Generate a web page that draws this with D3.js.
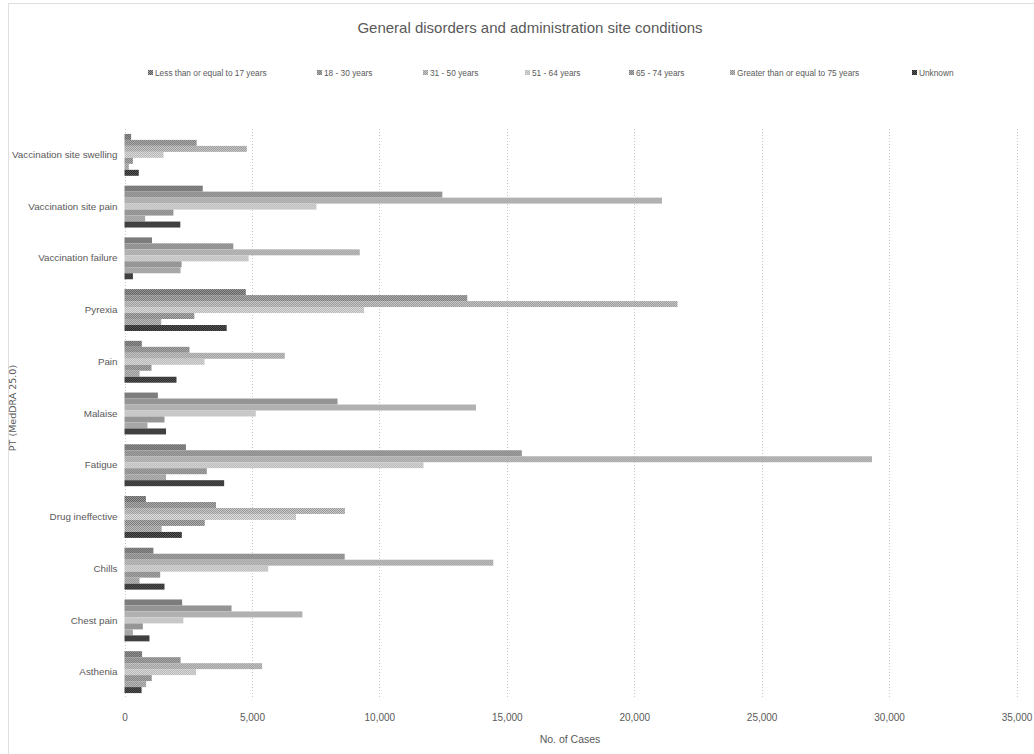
<!DOCTYPE html>
<html>
<head>
<meta charset="utf-8">
<script src="https://cdn.jsdelivr.net/npm/d3@7"></script>
<style>
  html, body { margin: 0; padding: 0; background: #fff; }
  svg { display: block; }
  text { font-family: "Liberation Sans", Arial, sans-serif; fill: #595959; }
</style>
</head>
<body>
<svg id="chart" width="1034" height="754"></svg>
<script>
// ---- Data ----
const categories = [
  "Vaccination site swelling", "Vaccination site pain", "Vaccination failure",
  "Pyrexia", "Pain", "Malaise", "Fatigue", "Drug ineffective",
  "Chills", "Chest pain", "Asthenia"
];
const seriesNames = [
  "Less than or equal to 17 years", "18 - 30 years", "31 - 50 years",
  "51 - 64 years", "65 - 74 years", "Greater than or equal to 75 years", "Unknown"
];
// values per series, in category order above
const age17 =     [260, 3070, 1080, 4760, 680, 1310, 2410, 840, 1135, 2260, 690];
const age18_30 =  [2830, 12470, 4270, 13450, 2550, 8360, 15590, 3590, 8640, 4200, 2200];
const age31_50 =  [4800, 21090, 9230, 21700, 6290, 13790, 29330, 8650, 14470, 6980, 5400];
const age51_64 =  [1530, 7530, 4870, 9400, 3140, 5150, 11730, 6730, 5640, 2310, 2810];
const age65_74 =  [330, 1920, 2240, 2740, 1060, 1570, 3230, 3150, 1400, 720, 1070];
const age75plus = [170, 810, 2200, 1440, 590, 900, 1630, 1460, 590, 330, 850];
const unknown =   [560, 2190, 330, 4010, 2040, 1630, 3910, 2250, 1570, 980, 670];
const seriesValues = [age17, age18_30, age31_50, age51_64, age65_74, age75plus, unknown];
const xTicks = [0, 5000, 10000, 15000, 20000, 25000, 30000, 35000];

// ---- Styling ----
const fills = [
  ["#5f5f5f", "#9a9a9a"],
  ["#7c7c7c", "#adadad"],
  ["#9a9a9a", "#c8c8c8"],
  ["#b4b4b4", "#dcdcdc"],
  ["#7a7a7a", "#b2b2b2"],
  ["#8e8e8e", "#c0c0c0"],
  ["#262626", "#5a5a5a"]
];
const legendX = [148, 317, 423, 525, 629, 730, 912];

const svg = d3.select("#chart");
const defs = svg.append("defs");
fills.forEach((c, i) => {
  const p = defs.append("pattern").attr("id", "pat" + i)
    .attr("patternUnits", "userSpaceOnUse").attr("width", 2).attr("height", 2);
  p.append("rect").attr("width", 2).attr("height", 2).attr("fill", c[1]);
  p.append("rect").attr("width", 1).attr("height", 1).attr("fill", c[0]);
  p.append("rect").attr("x", 1).attr("y", 1).attr("width", 1).attr("height", 1).attr("fill", c[0]);
});

// chart border
svg.append("rect").attr("x", 8.5).attr("y", 3.5).attr("width", 1040).attr("height", 770)
  .attr("fill", "none").attr("stroke", "#bfbfbf").attr("stroke-dasharray", "1,1");

const plot = { left: 124.5, right: 1016.5, top: 129, bottom: 698 };

const x = d3.scaleLinear().domain([0, 35000]).range([plot.left, plot.right]);
const y0 = d3.scaleBand().domain(categories).range([plot.top, plot.bottom]).paddingInner(0.19).paddingOuter(0.095);
const y1 = d3.scaleBand().domain(d3.range(seriesNames.length)).range([0, y0.bandwidth()]);

// gridlines
svg.append("g").selectAll("line").data(xTicks).join("line")
  .attr("x1", d => Math.round(x(d)) + 0.5).attr("x2", d => Math.round(x(d)) + 0.5)
  .attr("y1", plot.top).attr("y2", plot.bottom)
  .attr("stroke", "#c8c8c8").attr("stroke-dasharray", "1,2");

// bars
const groups = svg.append("g").selectAll("g").data(categories).join("g")
  .attr("transform", d => `translate(0,${y0(d)})`);
groups.selectAll("rect")
  .data((c, ci) => seriesValues.map((vals, si) => ({ si, v: vals[ci] })))
  .join("rect")
  .attr("x", x(0))
  .attr("y", d => y1(d.si))
  .attr("width", d => x(d.v) - x(0))
  .attr("height", y1.bandwidth())
  .attr("fill", d => `url(#pat${d.si})`);

// axes
const xAxis = d3.axisBottom(x).tickValues(xTicks).tickFormat(d3.format(",")).tickSize(0).tickPadding(12);
const gx = svg.append("g").attr("transform", `translate(0,${plot.bottom + 4})`).call(xAxis);
gx.select(".domain").remove();
gx.selectAll("text").attr("font-size", 10).attr("fill", "#595959")
  .style("font-family", '"Liberation Sans", Arial, sans-serif');

const yAxis = d3.axisLeft(y0).tickSize(0).tickPadding(7);
const gy = svg.append("g").attr("transform", `translate(${plot.left},0)`).call(yAxis);
gy.select(".domain").remove();
gy.selectAll("text").attr("font-size", 9.8).attr("fill", "#595959")
  .style("font-family", '"Liberation Sans", Arial, sans-serif');

// title
svg.append("text").attr("x", 530).attr("y", 33).attr("text-anchor", "middle")
  .attr("font-size", 15).text("General disorders and administration site conditions");

// axis titles
svg.append("text").attr("x", 570).attr("y", 743).attr("text-anchor", "middle")
  .attr("font-size", 10.5).text("No. of Cases");
svg.append("text").attr("transform", "translate(16,408) rotate(-90)").attr("text-anchor", "middle")
  .style("font-family", '"DejaVu Sans", sans-serif').attr("font-size", 9.5)
  .text("PT (MedDRA 25.0)");

// legend
const legend = svg.append("g").selectAll("g").data(seriesNames).join("g")
  .attr("transform", (d, i) => `translate(${legendX[i]},74)`);
legend.append("rect").attr("x", 0).attr("y", -4).attr("width", 5).attr("height", 5)
  .attr("fill", (d, i) => `url(#pat${i})`);
legend.append("text").attr("x", 7).attr("y", 1.5).attr("font-size", 8.3).text(d => d);
</script>
</body>
</html>
